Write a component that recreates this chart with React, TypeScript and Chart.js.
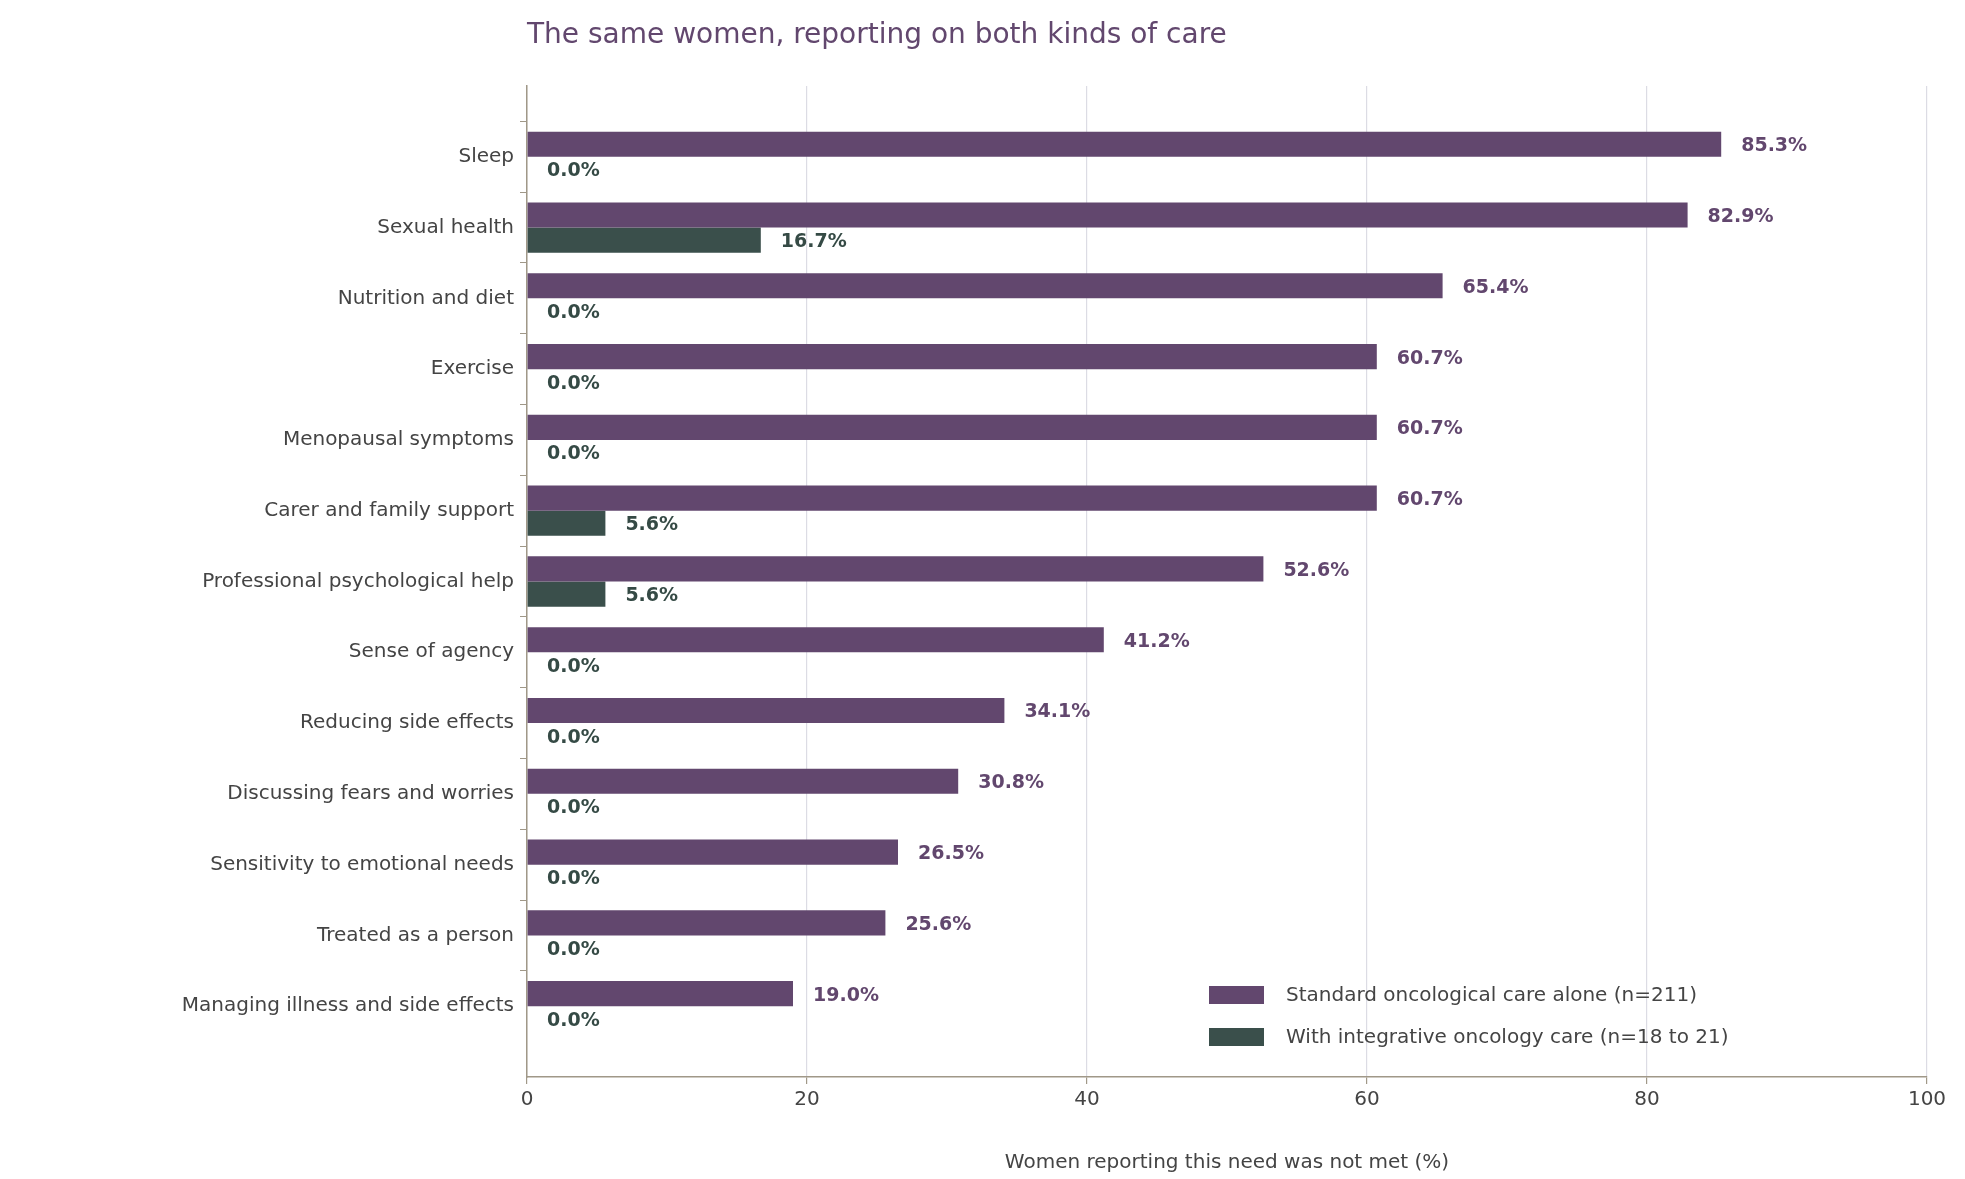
import React, { useEffect, useRef } from "react";
import { Chart, registerables } from "chart.js";
Chart.register(...registerables);

const categories = ["Sleep","Sexual health","Nutrition and diet","Exercise","Menopausal symptoms","Carer and family support","Professional psychological help","Sense of agency","Reducing side effects","Discussing fears and worries","Sensitivity to emotional needs","Treated as a person","Managing illness and side effects"];
const standardValues = [85.3,82.9,65.4,60.7,60.7,60.7,52.6,41.2,34.1,30.8,26.5,25.6,19.0];
const integrativeValues = [0,16.7,0,0,0,5.6,5.6,0,0,0,0,0,0];
const seriesNames = ["Standard oncological care alone (n=211)","With integrative oncology care (n=18 to 21)"];
const xTicks = [0,20,40,60,80,100];
const PURPLE = "#62476e", GREEN = "#3a4f4b", TXT = "#444444", FONT = "'DejaVu Sans', sans-serif";

export default function App() {
  const ref = useRef<HTMLCanvasElement>(null);
  useEffect(() => {
    document.body.style.margin = "0";
    const labels = ["", ...categories, ""];
    const pad = (a: number[]) => [null, ...a, null];
    const plugin = {
      id: "extras",
      afterDatasetsDraw(chart: any) {
        const ctx = chart.ctx;
        ctx.save();
        ctx.font = `bold 19px ${FONT}`;
        ctx.textBaseline = "middle";
        ctx.textAlign = "left";
        chart.data.datasets.forEach((ds: any, i: number) => {
          chart.getDatasetMeta(i).data.forEach((el: any, j: number) => {
            const v = ds.data[j];
            if (v == null) return;
            ctx.fillStyle = i === 0 ? PURPLE : "#354a45";
            ctx.fillText(v.toFixed(1) + "%", el.x + 20, el.y + 2);
          });
        });
        // title
        ctx.font = `28px ${FONT}`;
        ctx.fillStyle = PURPLE;
        ctx.fillText("The same women, reporting on both kinds of care", 527, 36);
        // legend
        ctx.font = `20px ${FONT}`;
        [PURPLE, GREEN].forEach((c, i) => {
          const y = 995 + i * 42;
          ctx.fillStyle = c;
          ctx.fillRect(1209, y - 9, 55, 18);
          ctx.fillStyle = TXT;
          ctx.fillText(seriesNames[i], 1286, y + 1);
        });
        ctx.restore();
      },
    };
    const chart = new Chart(ref.current!, {
      type: "bar",
      data: {
        labels,
        datasets: [
          { label: seriesNames[0], data: pad(standardValues), backgroundColor: PURPLE, categoryPercentage: 0.71, barPercentage: 1 },
          { label: seriesNames[1], data: pad(integrativeValues), backgroundColor: GREEN, categoryPercentage: 0.71, barPercentage: 1 },
        ],
      },
      options: {
        indexAxis: "y",
        animation: false,
        responsive: false,
        maintainAspectRatio: false,
        layout: { padding: { top: 86, right: 38, left: 0, bottom: 0 } },
        plugins: { legend: { display: false }, title: { display: false }, tooltip: { enabled: false } },
        scales: {
          x: {
            min: 0, max: 100,
            afterBuildTicks: (s: any) => { s.ticks = xTicks.map((v) => ({ value: v })); },
            afterFit: (s: any) => { s.height = 102; },
            grid: { color: "#dcdce4", lineWidth: 1.2, tickColor: "#a09888", tickLength: 7 },
            border: { color: "#a09888", width: 1.5 },
            ticks: { color: TXT, font: { size: 20, family: FONT }, padding: 4 },
            title: { display: true, text: "Women reporting this need was not met (%)", color: TXT, font: { size: 20, family: FONT }, padding: { top: 4 } },
          },
          y: {
            offset: false,
            afterFit: (s: any) => { s.width = 527; },
            grid: { drawOnChartArea: false, tickColor: (c: any) => (c.index === 0 || c.index === labels.length - 1 ? "rgba(0,0,0,0)" : "#a09888"), tickLength: 7 },
            border: { color: "#a09888", width: 1.5 },
            ticks: { color: TXT, font: { size: 20, family: FONT }, padding: 6, autoSkip: false },
          },
        },
      },
      plugins: [plugin],
    } as any);
    return () => chart.destroy();
  }, []);
  return <canvas ref={ref} width={1965} height={1179} style={{ display: "block", width: 1965, height: 1179 }} />;
}
